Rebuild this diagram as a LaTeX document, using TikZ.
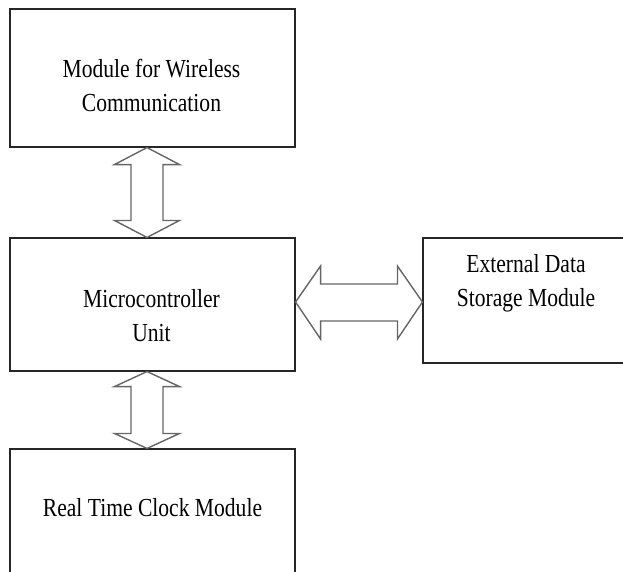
\documentclass[tikz,border=0pt]{standalone}
\usepackage{fontspec}
\setmainfont{Liberation Serif}[FakeStretch=0.83]
\usetikzlibrary{calc,positioning}

\begin{document}
\begin{tikzpicture}[x=1pt,y=-1pt,
  blk/.style={draw=black!85,line width=1.1pt,inner sep=0pt},
  txt/.style={align=center,inner sep=0pt,font=\fontsize{26}{34}\selectfont},
  fatarrow/.style={draw=black!60,line width=1.4pt,line join=miter,fill=white}]
\useasboundingbox (0,0) rectangle (623,571);
% blocks
\node[blk,minimum width=285pt,minimum height=138pt] (wifi) at (152.5,78) {};
\node[blk,minimum width=285pt,minimum height=133pt] (mcu) at (152.5,304.5) {};
\node[blk,minimum width=217pt,minimum height=125pt] (ext) at (531.5,300.5) {};
\node[blk,minimum width=285pt,minimum height=151pt] (rtc) at (152.5,524.5) {};
% labels
\node[txt] (wifitxt) at ($(wifi.center)+(-1,7)$) {Module for Wireless\\Communication};
\node[txt] (mcutxt) at ($(mcu.center)+(-1,11)$) {Microcontroller\\Unit};
\node[txt] (exttxt) at ($(ext.center)+(-5.5,-17.5)$) {External Data\\Storage Module};
\node[txt] (rtctxt) at ($(rtc.north)+(0,59.5)$) {Real Time Clock Module};
% vertical links
\foreach \s/\e/\h in {wifi/mcu/17,mcu/rtc/15}{
  \coordinate (top) at ($(\s.south)+(-5.5,0)$);
  \coordinate (bot) at ($(\e.north)+(-5.5,0)$);
  \draw[fatarrow] (top) -- ++(32.5,\h) -- ++(-16.5,0) -- ($(bot)+(16,-\h)$) -- ++(16.5,0) -- (bot)
    -- ++(-32.5,-\h) -- ++(16.5,0) -- ($(top)+(-16,\h)$) -- ++(-16.5,0) -- cycle;
}
% horizontal link
\coordinate (lft) at ($(mcu.east)+(0,-2.5)$);
\coordinate (rgt) at ($(ext.west)+(0,1.5)$);
\draw[fatarrow] (lft) -- ++(25,-36) -- ++(0,18) -- ($(rgt)+(-25,-18)$) -- ++(0,-18) -- (rgt)
  -- ++(-25,37) -- ++(0,-18) -- ($(lft)+(25,19)$) -- ++(0,18) -- cycle;
\end{tikzpicture}
\end{document}
